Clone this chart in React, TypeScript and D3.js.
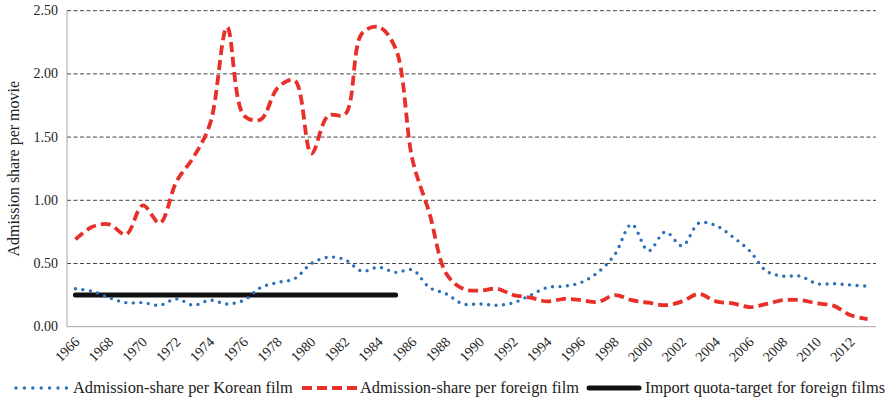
import React from "react";
import * as d3 from "d3";

const years: number[] = d3.range(1966, 2014);
const korean: number[] = [
  0.30, 0.28, 0.23, 0.19, 0.19, 0.17, 0.22, 0.17, 0.21, 0.18,
  0.21, 0.31, 0.35, 0.38, 0.50, 0.55, 0.53, 0.44, 0.47, 0.43,
  0.45, 0.31, 0.26, 0.18, 0.18, 0.17, 0.19, 0.25, 0.31, 0.32,
  0.35, 0.43, 0.57, 0.81, 0.60, 0.75, 0.64, 0.82, 0.80, 0.71,
  0.60, 0.44, 0.40, 0.40, 0.34, 0.34, 0.33, 0.32,
];
const foreign: number[] = [
  0.69, 0.79, 0.81, 0.73, 0.96, 0.82, 1.15, 1.34, 1.61, 2.37,
  1.67, 1.64, 1.89, 1.95, 1.37, 1.67, 1.68, 2.32, 2.37, 2.20,
  1.32, 0.90, 0.42, 0.30, 0.285, 0.30, 0.25, 0.23, 0.20, 0.22,
  0.21, 0.195, 0.25, 0.21, 0.19, 0.17, 0.20, 0.26, 0.20, 0.185,
  0.155, 0.18, 0.21, 0.21, 0.185, 0.165, 0.09, 0.06,
];
const quotaYears: number[] = d3.range(1966, 1986);
const quota: number[] = quotaYears.map(() => 0.25);
const yTicks: number[] = [0, 0.5, 1, 1.5, 2, 2.5];
const xTickYears: number[] = years.filter((y) => (y - 1966) % 2 === 0);

const W = 886;
const H = 399;
const left = 67;
const right = 876;
const top = 10.7;
const bottom = 326.7;
const FONT = "'Liberation Serif', 'Times New Roman', serif";

export default function App() {
  const x = d3.scaleBand<number>().domain(years).range([left, right]).padding(0);
  const cx = (yr: number) => (x(yr) as number) + x.bandwidth() / 2;
  const y = d3.scaleLinear().domain([0, 2.5]).range([bottom, top]);

  const smooth = d3
    .line<[number, number]>()
    .x((d) => cx(d[0]))
    .y((d) => y(d[1]))
    .curve(d3.curveCatmullRom.alpha(0.5));
  const straight = d3
    .line<[number, number]>()
    .x((d) => cx(d[0]))
    .y((d) => y(d[1]));

  const kData = years.map((yr, i) => [yr, korean[i]] as [number, number]);
  const fData = years.map((yr, i) => [yr, foreign[i]] as [number, number]);
  const qData = quotaYears.map((yr, i) => [yr, quota[i]] as [number, number]);

  return (
    <svg width={W} height={H} style={{ position: "absolute", left: 0, top: 0, background: "#fff" }} fontFamily={FONT}>
      <rect x={0} y={0} width={W} height={H} fill="#fff" />
      {yTicks.filter((t) => t > 0).map((t) => (
        <line key={t} x1={left} x2={right} y1={y(t)} y2={y(t)} stroke="#444" strokeWidth={1} strokeDasharray="4,2.5" />
      ))}
      <line x1={left} x2={left} y1={top} y2={bottom} stroke="#a6a6a6" strokeWidth={1} />
      <line x1={left} x2={right} y1={bottom} y2={bottom} stroke="#a6a6a6" strokeWidth={1} />
      {yTicks.map((t) => (
        <text key={t} x={58} y={y(t) + 4.5} textAnchor="end" fontSize={14} fill="#222">
          {t.toFixed(2)}
        </text>
      ))}
      {xTickYears.map((yr) => (
        <text
          key={yr}
          transform={`translate(${cx(yr) + 5},${bottom + 16}) rotate(-45)`}
          textAnchor="end"
          fontSize={14}
          fill="#222"
        >
          {yr}
        </text>
      ))}
      <text transform={`translate(19,${(top + bottom) / 2}) rotate(-90)`} textAnchor="middle" fontSize={16} fill="#222">
        Admission share per movie
      </text>

      <path d={straight(qData) || ""} fill="none" stroke="#111" strokeWidth={5} strokeLinecap="round" />
      <path d={smooth(fData) || ""} fill="none" stroke="#e8302a" strokeWidth={3.8} strokeDasharray="10,5" />
      <path d={smooth(kData) || ""} fill="none" stroke="#2a6fba" strokeWidth={3.4} strokeDasharray="0,7.5" strokeLinecap="round" />

      <g fontSize={16.4} fill="#222">
        <line x1={16} x2={67} y1={388} y2={388} stroke="#2a6fba" strokeWidth={3.4} strokeDasharray="0,8.4" strokeLinecap="round" />
        <text x={73} y={393}>Admission-share per Korean film</text>
        <line x1={302} x2={357} y1={388} y2={388} stroke="#e8302a" strokeWidth={3.8} strokeDasharray="10,5" />
        <text x={360} y={393}>Admission-share per foreign film</text>
        <line x1={589} x2={639} y1={388} y2={388} stroke="#111" strokeWidth={5} strokeLinecap="round" />
        <text x={645} y={393}>Import quota-target for foreign films</text>
      </g>
    </svg>
  );
}
